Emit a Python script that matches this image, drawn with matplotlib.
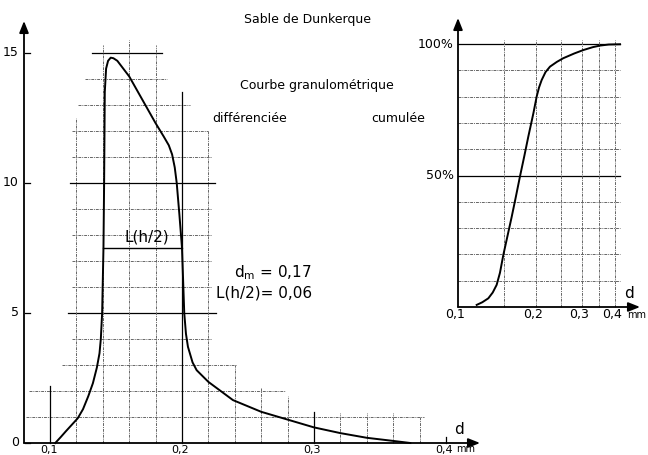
import numpy as np
import matplotlib
matplotlib.use("Agg")
import matplotlib.pyplot as plt

# courbe differenciee : d (mm) -> frequence (%)
diff_d = [0.104, 0.108, 0.112, 0.1165, 0.121, 0.125, 0.129, 0.1325, 0.1355, 0.1375,
          0.1385, 0.1395, 0.1405, 0.141, 0.1415, 0.1425, 0.144, 0.146, 0.148, 0.151,
          0.16, 0.17, 0.18, 0.186, 0.19, 0.1925, 0.1945, 0.196, 0.198, 0.2, 0.2017,
          0.203, 0.2045, 0.208, 0.2111, 0.22, 0.2386, 0.26, 0.28, 0.30, 0.32, 0.34,
          0.36, 0.373]
diff_y = [0.0, 0.22, 0.45, 0.7, 0.95, 1.3, 1.8, 2.3, 2.9, 3.45,
          4.0, 5.0, 7.5, 10.0, 13.5, 14.4, 14.7, 14.82, 14.8, 14.7,
          14.1, 13.2, 12.3, 11.8, 11.45, 11.1, 10.6, 10.0, 8.8, 7.5, 5.0,
          4.2, 3.7, 3.1, 2.8, 2.35, 1.65, 1.2, 0.9, 0.6, 0.38, 0.2,
          0.08, 0.0]

# courbe cumulee : d (mm) -> % cumule
cum_d = [0.118, 0.124, 0.1308, 0.136, 0.1408, 0.145, 0.1494, 0.155, 0.1609, 0.167,
         0.173, 0.18, 0.1864, 0.1949, 0.2007, 0.205, 0.2098, 0.217, 0.2259, 0.24,
         0.2541, 0.28, 0.3034, 0.33, 0.3516, 0.38, 0.42]
cum_p = [0.8, 1.8, 3.3, 5.5, 8.4, 13.0, 19.8, 27.0, 34.3, 42.0,
         49.5, 57.5, 64.8, 73.6, 80.0, 83.5, 86.3, 89.3, 91.4, 93.2,
         94.6, 96.4, 97.7, 98.8, 99.4, 99.8, 99.9]

# quadrillage de la courbe differenciee (niveau, debut, fin)
h_levels = [1, 2, 3, 4, 5, 6, 7, 8, 9, 10, 11, 12, 13, 14, 15]
h_start = [0.082, 0.084, 0.109, 0.117, 0.114, 0.117, 0.117, 0.117, 0.117, 0.115,
           0.117, 0.117, 0.121, 0.1265, 0.132]
h_end = [0.383, 0.278, 0.242, 0.223, 0.226, 0.223, 0.223, 0.223, 0.223, 0.225,
         0.223, 0.22, 0.206, 0.189, 0.185]
v_d = [0.10, 0.12, 0.14, 0.16, 0.18, 0.20, 0.22, 0.24, 0.26, 0.28, 0.30,
       0.32, 0.34, 0.36, 0.38]
v_top = [2.2, 12.5, 15.3, 15.5, 15.3, 13.5, 12.0, 3.0, 2.1, 1.8, 1.2,
         1.15, 1.15, 1.15, 1.0]

y_ticks = [0, 5, 10, 15]
x_ticks = [0.1, 0.2, 0.3, 0.4]
x_labels = ["0,1", "0,2", "0,3", "0,4"]

cum_vgrid = [0.15, 0.2, 0.25, 0.3, 0.35, 0.4]
cum_hgrid = [10, 20, 30, 40, 50, 60, 70, 80, 90, 100]

W, H = 648, 455
fig = plt.figure(figsize=(W / 100, H / 100), dpi=100)
fig.patch.set_facecolor("white")

GRID = dict(color="0.4", lw=0.7, ls=(0, (3, 1, 1, 1)), clip_on=False)
SOLID = dict(color="k", lw=0.9, clip_on=False)
ARROW = dict(arrowstyle="-|>,head_length=0.7,head_width=0.28", color="k",
             lw=1.3, shrinkA=0, shrinkB=0)

# ---- courbe differenciee ----
ax = fig.add_axes([24 / W, (H - 443) / H, (480 - 24) / W, (443 - 21) / H])
x0 = 0.1 - 26 / 1320
x1 = 0.1 + (480 - 50) / 1320
ax.set_xlim(x0, x1)
ax.set_ylim(0, (443 - 21) / 26)
ax.axis("off")

for lev, a, b in zip(h_levels, h_start, h_end):
    ax.plot([a, b], [lev, lev], **(SOLID if lev % 5 == 0 else GRID))
for d, top in zip(v_d, v_top):
    solid = abs(d * 10 - round(d * 10)) < 1e-6
    ax.plot([d, d], [0, top], **(SOLID if solid else GRID))
ax.plot([0.4, 0.4], [0, 0.25], **SOLID)

ax.plot(diff_d, diff_y, color="k", lw=1.4, clip_on=False)

# L(h/2)
ax.plot([0.1402, 0.2], [7.5, 7.5], color="k", lw=1.0, clip_on=False)
ax.text(0.1735, 7.65, "L(h/2)", ha="center", va="bottom", fontsize=11)
ax.text(0.2985, 6.54, r"d$_\mathregular{m}$ = 0,17", ha="right", va="center", fontsize=11)
ax.text(0.2985, 5.77, "L(h/2)= 0,06", ha="right", va="center", fontsize=11)

# axes
ax.annotate("", xy=(x0, ax.get_ylim()[1]), xytext=(x0, 0), arrowprops=ARROW)
ax.annotate("", xy=(x1, 0), xytext=(x0, 0), arrowprops=ARROW)
for t in y_ticks:
    ax.plot([x0 + 1.5 / 1320, x0 + 6 / 1320], [t, t], color="k", lw=0.9, clip_on=False)
    ax.text(x0 - 5 / 1320, t, str(t), ha="right", va="center", fontsize=9)
# labels de l'axe d, au ras du bas de la figure
xt = ax.get_xaxis_transform()
for t, lab in zip(x_ticks, x_labels):
    ax.text(t - 1.5 / 1320, -9.5 / 422, lab, transform=xt,
            ha="center", va="baseline", fontsize=8)
ax.text(0.4 + 10 / 1320, -9.5 / 422, "mm", transform=xt,
        ha="left", va="baseline", fontsize=7)
ax.annotate("d", xy=(x1, 0), xytext=(-15, 4), textcoords="offset points",
            ha="center", va="bottom", fontsize=11)

# ---- courbe cumulee ----
ax2 = fig.add_axes([458 / W, (H - 307) / H, (640 - 458) / W, (307 - 18) / H])
ax2.set_xscale("log")
c1 = 0.1 * 10 ** ((640 - 458) / 260)
ax2.set_xlim(0.1, c1)
ax2.set_ylim(0, (307 - 18) / 2.63)
ax2.axis("off")

for p in cum_hgrid:
    ax2.plot([0.1, 0.42], [p, p], **(SOLID if p in (50, 100) else GRID))
for d in cum_vgrid:
    ax2.plot([d, d], [0, 101.5], **GRID)

ax2.plot(cum_d, cum_p, color="k", lw=1.4, clip_on=False)

ax2.annotate("", xy=(0.1, ax2.get_ylim()[1]), xytext=(0.1, 0), arrowprops=ARROW)
ax2.annotate("", xy=(c1, 0), xytext=(0.1, 0), arrowprops=ARROW)
for p in (50, 100):
    ax2.annotate("%d%%" % p, xy=(0, p), xycoords=("axes fraction", "data"),
                 xytext=(-3, 0), textcoords="offset points",
                 ha="right", va="center", fontsize=9)
for t, lab in zip(x_ticks, x_labels):
    ax2.annotate(lab, xy=(t, 0), xytext=(-2, -8), textcoords="offset points",
                 ha="center", va="baseline", fontsize=9)
ax2.annotate("mm", xy=(0.4, 0), xytext=(9, -8), textcoords="offset points",
             ha="left", va="baseline", fontsize=7)
ax2.annotate("d", xy=(c1, 0), xytext=(-8, 4), textcoords="offset points",
             ha="center", va="bottom", fontsize=11)

# titres
fig.text(307 / W, 1 - 20 / H, "Sable de Dunkerque", ha="center", va="center", fontsize=9)
fig.text(317 / W, 1 - 85 / H, "Courbe granulométrique", ha="center", va="center", fontsize=9)
fig.text(250 / W, 1 - 118 / H, "différenciée", ha="center", va="center", fontsize=9)
fig.text(398 / W, 1 - 118 / H, "cumulée", ha="center", va="center", fontsize=9)

fig.savefig("out.png", dpi=100)
